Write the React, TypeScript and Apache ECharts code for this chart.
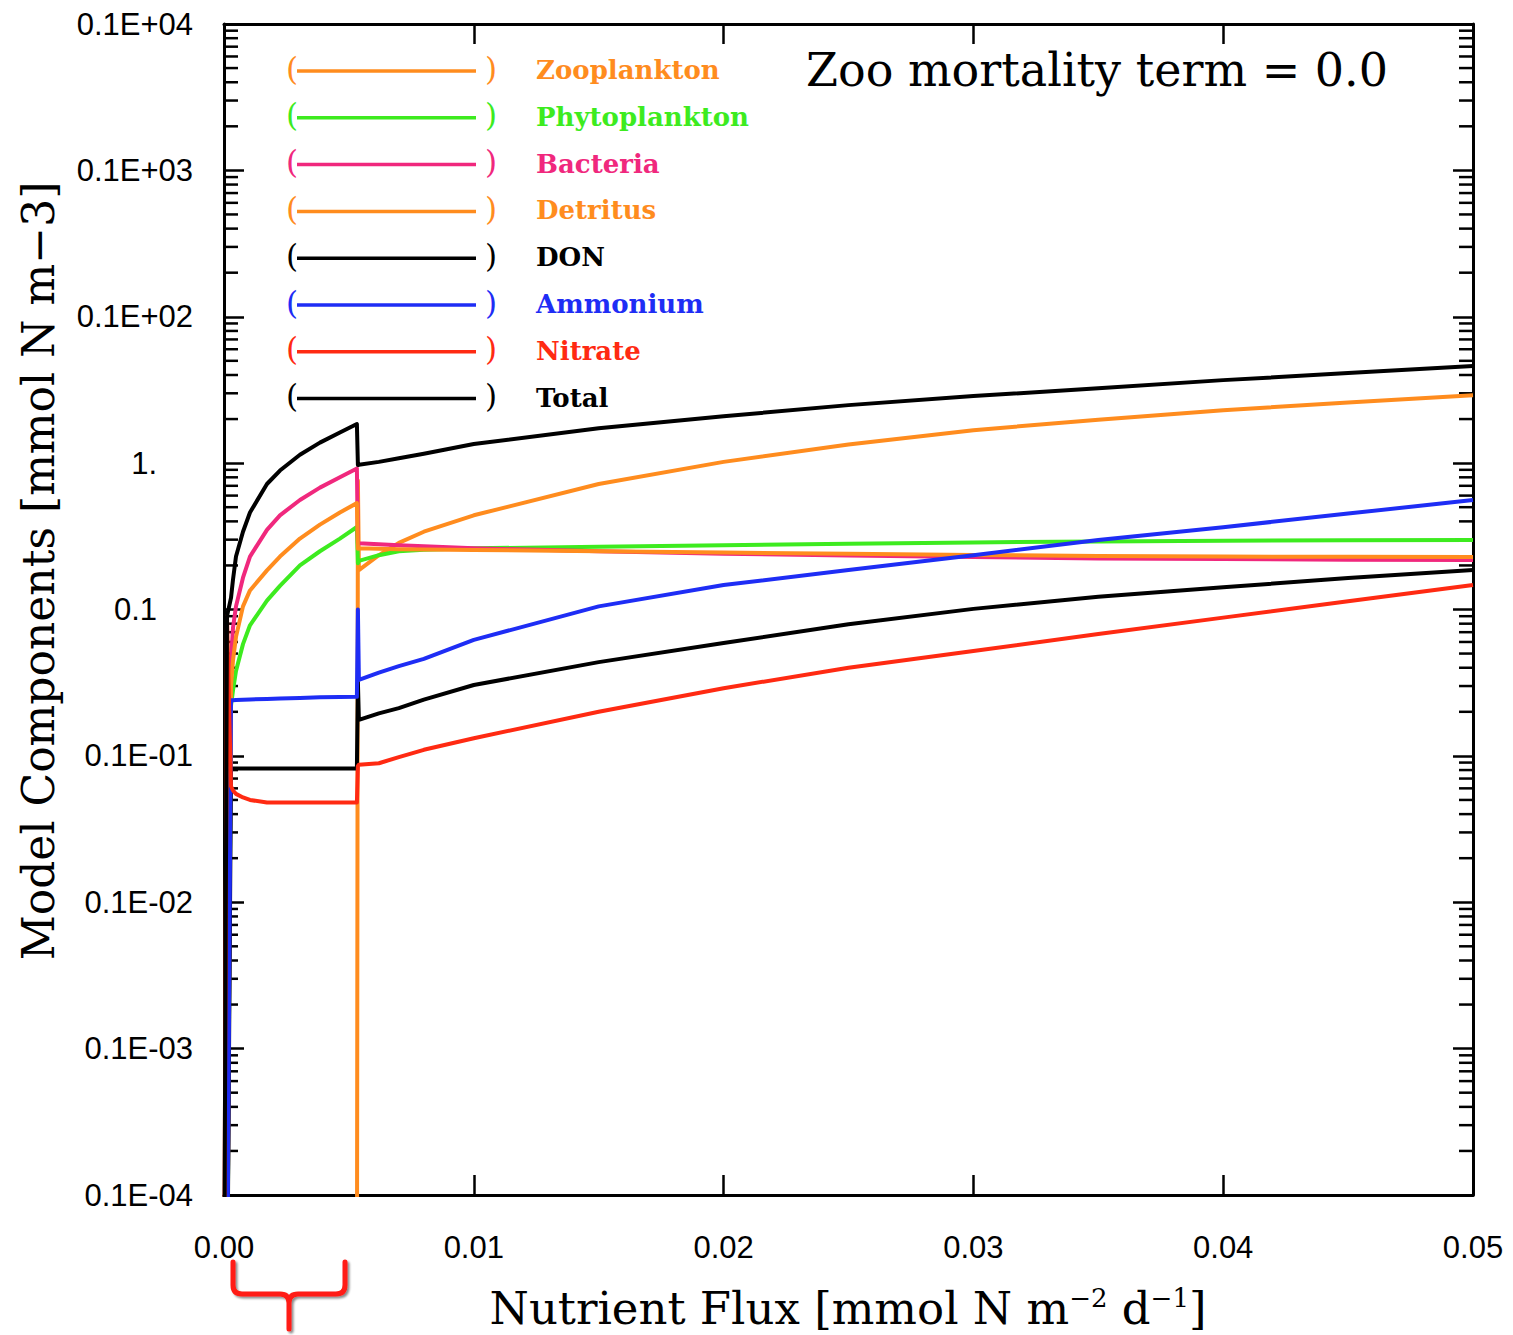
import React, { useEffect, useRef } from "react";
import * as echarts from "echarts";

// Nutrient flux grid [mmol N m-2 d-1]
const FLUX = [
  0, 0.00012, 0.00028, 0.00036, 0.00048, 0.00076, 0.00104, 0.00172, 0.00224,
  0.00304, 0.00384, 0.00464, 0.00532, 0.00536, 0.0054, 0.0062, 0.007, 0.008,
  0.01, 0.015, 0.02, 0.025, 0.03, 0.035, 0.04, 0.045, 0.05,
];

// Equilibrium concentrations [mmol N m-3]; 1e-6 means "effectively zero" (below the axis)
const ZOO = [
  1e-6, 1e-6, 1e-6, 1e-6, 1e-6, 1e-6, 1e-6, 1e-6, 1e-6, 1e-6, 1e-6, 1e-6, 1e-6,
  0.76, 0.186, 0.235, 0.285, 0.34, 0.44, 0.72, 1.02, 1.34, 1.68, 1.98, 2.3, 2.6, 2.91,
];
const PHYTO = [
  1e-6, 1e-6, 0.022, 0.028, 0.038, 0.058, 0.078, 0.115, 0.145, 0.2, 0.25, 0.305, 0.366,
  0.207, 0.215, 0.235, 0.25, 0.256, 0.262, 0.268, 0.275, 0.281, 0.287, 0.292, 0.295, 0.297, 0.298,
];
const BACT = [
  1e-6, 1e-6, 0.045, 0.075, 0.105, 0.165, 0.23, 0.35, 0.44, 0.56, 0.68, 0.8, 0.92,
  0.284, 0.283, 0.279, 0.275, 0.27, 0.262, 0.25, 0.24, 0.234, 0.228, 0.223, 0.221, 0.219, 0.218,
];
const DET = [
  1e-6, 1e-6, 0.03, 0.045, 0.065, 0.105, 0.135, 0.185, 0.23, 0.305, 0.38, 0.46, 0.533,
  0.26, 0.262, 0.26, 0.258, 0.257, 0.255, 0.25, 0.245, 0.24, 0.236, 0.232, 0.23, 0.229, 0.228,
];
const DON = [
  1e-6, 1e-6, 0.0082, 0.0082, 0.0082, 0.0082, 0.0082, 0.0082, 0.0082, 0.0082, 0.0082, 0.0082, 0.0082,
  0.032, 0.0176, 0.0195, 0.0212, 0.0242, 0.0305, 0.0437, 0.059, 0.0794, 0.101, 0.122, 0.142, 0.164, 0.186,
];
const NH4 = [
  1e-6, 1e-6, 0.024, 0.024, 0.0241, 0.0242, 0.0243, 0.0245, 0.0247, 0.0249, 0.0251, 0.0252, 0.0253,
  0.1, 0.033, 0.037, 0.041, 0.046, 0.062, 0.105, 0.147, 0.186, 0.235, 0.298, 0.365, 0.452, 0.56,
];
const NO3 = [
  1e-6, 0.09, 0.0062, 0.0058, 0.0055, 0.0052, 0.005, 0.0048, 0.0048, 0.0048, 0.0048, 0.0048, 0.0048,
  0.0085, 0.0087, 0.0089, 0.0098, 0.011, 0.0132, 0.02, 0.029, 0.04, 0.052, 0.068, 0.088, 0.114, 0.147,
];
const TOTAL = [
  1e-6, 0.09, 0.12, 0.16, 0.23, 0.34, 0.46, 0.72, 0.89, 1.14, 1.38, 1.62, 1.85,
  0.97, 0.975, 1.02, 1.08, 1.16, 1.35, 1.73, 2.09, 2.49, 2.87, 3.25, 3.69, 4.12, 4.6,
];

const SERIES_NAMES = [
  "Zooplankton", "Phytoplankton", "Bacteria", "Detritus", "DON", "Ammonium", "Nitrate", "Total",
];
const SERIES_DATA = [ZOO, PHYTO, BACT, DET, DON, NH4, NO3, TOTAL];
const SERIES_COLORS = [
  "#ff8c1e", "#3deb1f", "#f0287d", "#ff8c1e", "#000000", "#1e2df5", "#ff2a12", "#000000",
];

const X_TICK_LABELS = ["0.00", "0.01", "0.02", "0.03", "0.04", "0.05"];
// decade exponents -5 .. 3
const Y_TICK_LABELS = [
  "0.1E-04", "0.1E-03", "0.1E-02", "0.1E-01", "0.1", "1.", "0.1E+02", "0.1E+03", "0.1E+04",
];
const Y_MIN_EXP = -5;
const Y_MAX_EXP = 3;
const MINOR_MULTIPLES = [2, 3, 4, 5, 6, 7, 8, 9];

const TITLE = "Zoo mortality term = 0.0";

const TICK_FONT = "Liberation Sans";
const SERIF = "DejaVu Serif";

export default function App() {
  const ref = useRef<HTMLDivElement>(null);

  useEffect(() => {
    if (!ref.current) return;
    const chart = echarts.init(ref.current, undefined, { renderer: "svg" });

    const braceD =
      "M233,1262 L233,1285 Q233,1294 242,1294 L280,1294 Q289,1294 289,1303 L289,1329 " +
      "M289,1303 Q289,1294 298,1294 L336,1294 Q345,1294 345,1285 L345,1262";
    echarts.graphic.registerShape("brace", echarts.graphic.extendPath(braceD, {}));

    const minorData: number[][] = [];
    for (let e = Y_MIN_EXP; e < Y_MAX_EXP; e++) {
      for (const m of MINOR_MULTIPLES) minorData.push([0, m * Math.pow(10, e)]);
    }

    const lineSeries = SERIES_NAMES.map((name, i) => ({
      name,
      type: "line",
      xAxisIndex: 0,
      yAxisIndex: 0,
      data: FLUX.map((x, j) => [x, SERIES_DATA[i][j]]),
      showSymbol: false,
      symbol: "none",
      clip: true,
      lineStyle: { color: SERIES_COLORS[i], width: 4, join: "round" },
      itemStyle: { color: SERIES_COLORS[i] },
      z: 3 + i,
    }));

    const legendElems: any[] = [];
    SERIES_NAMES.forEach((name, i) => {
      const y = 71 + i * 46.8;
      const c = SERIES_COLORS[i];
      legendElems.push(
        {
          type: "text", left: 286, top: y - 18,
          style: { text: "(", fill: c, font: `31px ${SERIF}` },
        },
        {
          type: "line",
          shape: { x1: 297, y1: y, x2: 476, y2: y },
          style: { stroke: c, lineWidth: 3.5 },
        },
        {
          type: "text", left: 485, top: y - 18,
          style: { text: ")", fill: c, font: `31px ${SERIF}` },
        },
        {
          type: "text", left: 536, top: y - 14,
          style: { text: name, fill: c, font: `bold 26px ${SERIF}` },
        }
      );
    });

    const axisCommon = {
      axisLine: { show: true, onZero: false, lineStyle: { color: "#000", width: 3 } },
      splitLine: { show: false },
    };

    chart.setOption({
      animation: false,
      backgroundColor: "#ffffff",
      grid: { left: 224, top: 24, right: 40, bottom: 140, containLabel: false },
      xAxis: [
        {
          type: "value", position: "bottom", min: 0, max: 0.05, interval: 0.01,
          ...axisCommon,
          axisTick: { show: true, inside: true, length: 20, lineStyle: { color: "#000", width: 2.5 } },
          axisLabel: {
            color: "#000", fontSize: 31, fontFamily: TICK_FONT, margin: 37,
            formatter: (v: number) => X_TICK_LABELS[Math.round(v / 0.01)] ?? "",
          },
        },
        {
          type: "value", position: "top", min: 0, max: 0.05, interval: 0.01,
          ...axisCommon,
          axisTick: { show: true, inside: true, length: 20, lineStyle: { color: "#000", width: 2.5 } },
          axisLabel: { show: false },
        },
      ],
      yAxis: [
        {
          type: "log", logBase: 10, position: "left", min: 1e-5, max: 1e3, splitNumber: 8,
          ...axisCommon,
          axisTick: { show: true, inside: true, length: 20, lineStyle: { color: "#000", width: 2.5 } },
          axisLabel: {
            color: "#000", fontSize: 31, fontFamily: TICK_FONT, margin: 31,
            formatter: (v: number) => {
              const s = Y_TICK_LABELS[Math.round(Math.log10(v)) - Y_MIN_EXP] ?? "";
              // short labels sit in a fixed-width field, flush with the mantissa column
              return s.length < 4 ? `{short|${s}}` : s;
            },
            rich: {
              short: {
                color: "#000", fontSize: 31, fontFamily: TICK_FONT, padding: [0, 36, 0, 0],
              },
            },
          },
        },
        {
          type: "log", logBase: 10, position: "right", min: 1e-5, max: 1e3, splitNumber: 8,
          ...axisCommon,
          axisTick: { show: true, inside: true, length: 20, lineStyle: { color: "#000", width: 2.5 } },
          axisLabel: { show: false },
        },
      ],
      series: [
        {
          type: "custom",
          silent: true,
          clip: false,
          xAxisIndex: 0,
          yAxisIndex: 0,
          encode: { x: 0, y: 1 },
          data: minorData,
          z: 1,
          renderItem: (_p: any, api: any) => {
            const v = api.value(1);
            const l = api.coord([0, v]);
            const r = api.coord([0.05, v]);
            const st = { stroke: "#000", lineWidth: 2.5 };
            return {
              type: "group",
              children: [
                { type: "line", shape: { x1: l[0], y1: l[1], x2: l[0] + 14, y2: l[1] }, style: st },
                { type: "line", shape: { x1: r[0], y1: r[1], x2: r[0] - 14, y2: r[1] }, style: st },
              ],
            };
          },
        },
        ...lineSeries,
      ],
      graphic: [
        ...legendElems,
        {
          type: "text", left: 806, top: 47,
          style: { text: TITLE, fill: "#000", font: `46px ${SERIF}` },
        },
        {
          type: "text",
          x: 38, y: 571,
          rotation: Math.PI / 2,
          style: {
            text: "Model Components [mmol N m\u22123]",
            fill: "#000", font: `44px ${SERIF}`, align: "center", verticalAlign: "middle",
          },
        },
        {
          type: "text",
          x: 848, y: 1308,
          style: {
            text: "Nutrient Flux [mmol N m{sup|\u22122} d{sup|\u22121}]",
            fill: "#000", font: `45px ${SERIF}`, align: "center", verticalAlign: "middle",
            rich: {
              sup: { fontSize: 26, fontFamily: SERIF, verticalAlign: "top", padding: [0, 0, 20, 0], fill: "#000" },
            },
          },
        },
        {
          type: "brace",
          x: 0, y: 0,
          style: {
            fill: "none", stroke: "#ff1a12", lineWidth: 5, lineCap: "round", lineJoin: "round",
            shadowColor: "rgba(0,0,0,0.45)", shadowBlur: 2, shadowOffsetX: 2, shadowOffsetY: 2,
          },
        },
      ],
    });

    return () => chart.dispose();
  }, []);

  return (
    <div
      ref={ref}
      style={{ position: "absolute", left: 0, top: 0, width: 1513, height: 1335, background: "#fff" }}
    />
  );
}
